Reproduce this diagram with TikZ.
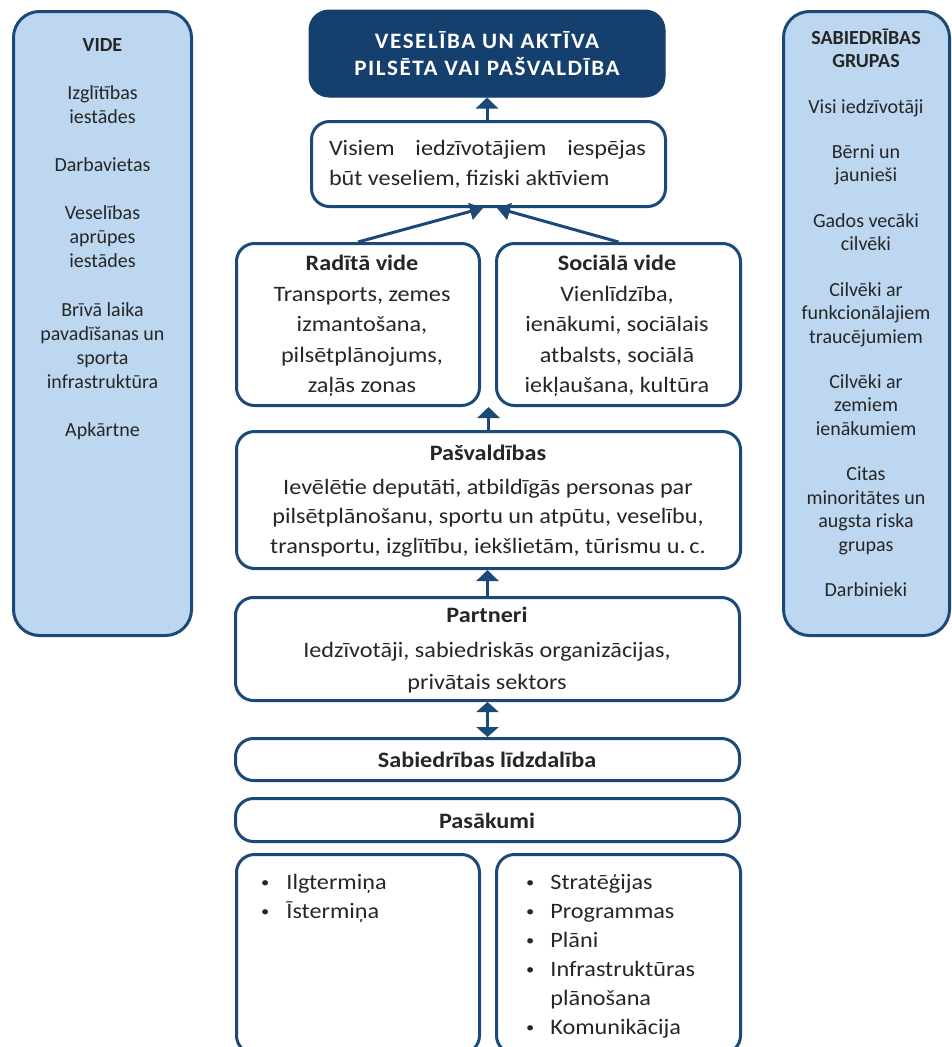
\documentclass[tikz,border=0pt]{standalone}
\usepackage{fontspec}
\setmainfont{Carlito}
\newfontfamily\cfont[FakeStretch=1.1]{Carlito}
\newfontfamily\tfont[LetterSpace=7,FakeStretch=1.05]{Carlito}
\usetikzlibrary{arrows.meta,calc}
\definecolor{navy}{HTML}{15406E}
\definecolor{edge}{HTML}{1B4A78}
\definecolor{panel}{HTML}{BDD7F1}
\definecolor{txt}{HTML}{262626}
\newcommand{\smbul}{\raisebox{1.5pt}{\fontsize{15}{15}\selectfont\textbullet}}
\tikzset{
  box/.style={draw=edge, line width=3pt, rounded corners=18pt, fill=white, inner sep=0pt},
  sidepanel/.style={draw=edge, line width=3pt, rounded corners=26pt, fill=panel, inner sep=0pt},
  toptitle/.style={draw=navy, line width=1pt, rounded corners=20pt, fill=navy, inner sep=0pt},
  sidetxt/.style={text=txt, align=center, inner sep=0pt},
  ctxt/.style={text=txt, align=center, inner sep=0pt, font=\cfont\fontsize{22}{30.5}\selectfont},
  arr/.style={draw=edge, line width=3pt, -{Triangle[width=22pt,length=11pt]}},
  darr/.style={draw=edge, line width=3pt, {Triangle[width=22pt,length=10pt]}-{Triangle[width=22pt,length=10pt]}},
  sarr/.style={draw=edge, line width=3pt, -{Triangle[width=17pt,length=13pt]}}
}
\begin{document}
\begin{tikzpicture}[x=1pt,y=-1pt]
\useasboundingbox (0,0) rectangle (952,1047);
% side panels
\node[sidepanel, minimum width=178pt, minimum height=624pt] (left) at (102.5,323.5) {};
\node[sidepanel, minimum width=166pt, minimum height=624pt] (right) at (866.5,323.5) {};
\node[sidetxt, font=\fontsize{20}{24.1}\selectfont] (lefttxt) at (102.5,239) {%
\textbf{VIDE}\\[24.1pt]Izglītības\\iestādes\\[24.1pt]Darbavietas\\[24.1pt]Veselības\\aprūpes\\iestādes\\[24.1pt]Brīvā laika\\pavadīšanas un\\sporta\\infrastruktūra\\[24.1pt]Apkārtne};
\node[sidetxt, font=\fontsize{20}{23.5}\selectfont] (righttxt) at (866,313) {%
\textbf{SABIEDRĪBAS}\\[-1pt]\textbf{GRUPAS}\\[22.3pt]Visi iedzīvotāji\\[21.8pt]Bērni un\\jaunieši\\[21.8pt]Gados vecāki\\cilvēki\\[21.8pt]Cilvēki ar\\funkcionālajiem\\traucējumiem\\[21.8pt]Cilvēki ar\\zemiem\\ienākumiem\\[21.8pt]Citas\\minoritātes un\\augsta riska\\grupas\\[21.8pt]Darbinieki};
% top title
\node[toptitle, minimum width=356pt, minimum height=87pt, text=white, align=center,
  font=\tfont\bfseries\fontsize{22}{27}\selectfont] (top) at (487,53.5) {VESELĪBA UN AKTĪVA\\PILSĒTA VAI PAŠVALDĪBA};
% center boxes
\node[box, minimum width=354pt, minimum height=85pt] (box2) at (488.5,164) {};
\node[text=txt, inner sep=0pt, text width=317pt, align=justify, font=\cfont\fontsize{22}{30}\selectfont] (box2txt) at (487.5,164)
  {Visiem iedzīvotājiem iespējas\linebreak būt veseliem, fiziski aktīviem};
\node[box, minimum width=243pt, minimum height=162pt] (radita) at (358,324.5) {};
\node[box, minimum width=244pt, minimum height=162pt] (social) at (618.5,324.5) {};
\node[ctxt] (raditatxt) at (362,326) {\textbf{Radītā vide}\\Transports, zemes\\izmantošana,\\pilsētplānojums,\\zaļās zonas};
\node[ctxt] (socialtxt) at (617,326) {\textbf{Sociālā vide}\\Vienlīdzība,\\ienākumi, sociālais\\atbalsts, sociālā\\iekļaušana, kultūra};
\node[box, minimum width=504pt, minimum height=137pt] (pasv) at (488.5,500) {};
\node[ctxt, font=\cfont\fontsize{22}{29.5}\selectfont] (pasvtxt) at (488,501) {\textbf{Pašvaldības}\\[4pt]Ievēlētie deputāti, atbildīgās personas par\\pilsētplānošanu, sportu un atpūtu, veselību,\\transportu, izglītību, iekšlietām, tūrismu u.\,c.};
\node[box, minimum width=504pt, minimum height=103pt] (partn) at (487.5,649) {};
\node[ctxt, font=\cfont\fontsize{22}{32}\selectfont] (partntxt) at (487,650) {\textbf{Partneri}\\[3pt]Iedzīvotāji, sabiedriskās organizācijas,\\privātais sektors};
\node[box, minimum width=504pt, minimum height=42pt] (sabl) at (487.5,759.5) {};
\node[ctxt] (sabltxt) at (487,760) {\textbf{Sabiedrības līdzdalība}};
\node[box, minimum width=504pt, minimum height=43pt] (pasak) at (487.5,820) {};
\node[ctxt] (pasaktxt) at (487,821) {\textbf{Pasākumi}};
\node[box, minimum width=243pt, minimum height=199pt] (bl) at (358,954) {};
\node[box, minimum width=244pt, minimum height=199pt] (br) at (618.5,954) {};
\node[anchor=base west, inner sep=0pt, text=txt, font=\cfont\fontsize{22}{29}\selectfont] (bltxt) at (261,889)
  {\begin{tabular}[t]{@{}l@{\hspace{17pt}}l@{}}\smbul & Ilgtermiņa\\ \smbul & Īstermiņa\end{tabular}};
\node[anchor=base west, inner sep=0pt, text=txt, font=\cfont\fontsize{22}{29}\selectfont] (brtxt) at (526,889)
  {\begin{tabular}[t]{@{}l@{\hspace{16pt}}l@{}}\smbul & Stratēģijas\\ \smbul & Programmas\\ \smbul & Plāni\\ \smbul & Infrastruktūras\\ & plānošana\\ \smbul & Komunikācija\end{tabular}};
% connectors
\draw[arr] (box2.north -| top.south) -- (top.south);
\draw[sarr] (radita.north) -- ($(box2.south)+(-5.5,0)$);
\draw[sarr] (social.north) -- ($(box2.south)+(8.5,0)$);
\draw[arr] (pasv.north) -- (pasv.north |- radita.south);
\draw[arr] (partn.north) -- (partn.north |- pasv.south);
\draw[darr] (partn.south) -- (sabl.north);
\end{tikzpicture}
\end{document}
